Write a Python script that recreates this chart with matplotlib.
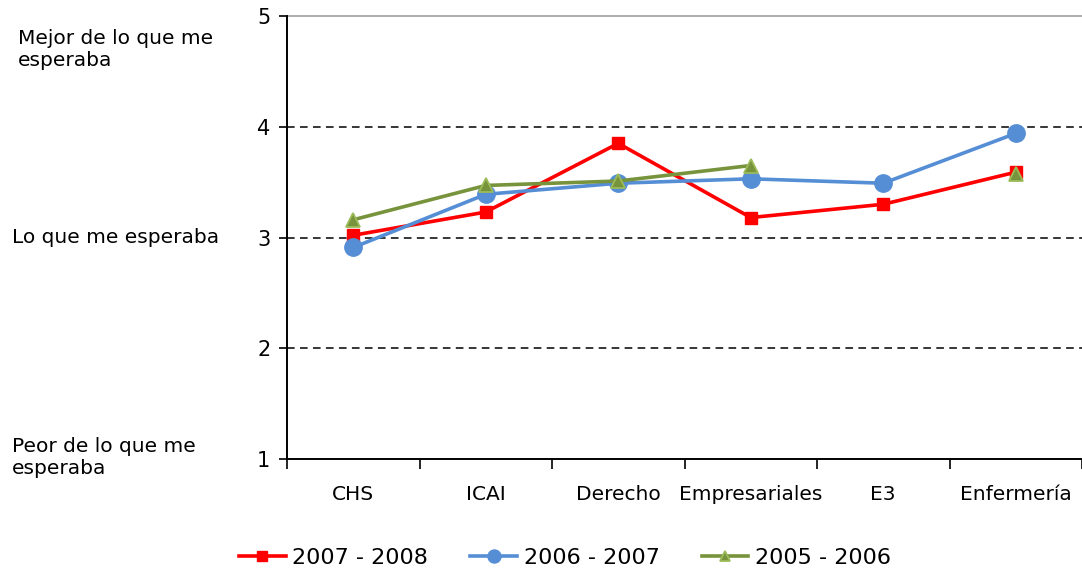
import numpy as np
import matplotlib
matplotlib.use('Agg')
import matplotlib.pyplot as plt
from matplotlib.ticker import FixedLocator

# Chart values
categories = ['CHS', 'ICAI', 'Derecho', 'Empresariales', 'E3', 'Enfermería']
y_2007_2008 = [3.02, 3.23, 3.85, 3.18, 3.30, 3.59]
y_2006_2007 = [2.91, 3.39, 3.49, 3.53, 3.49, 3.94]
y_2005_2006 = [3.16, 3.47, 3.51, 3.65, np.nan, 3.57]
series_labels = ['2007 - 2008', '2006 - 2007', '2005 - 2006']
y_ticks = [1, 2, 3, 4, 5]

plt.rcParams['font.family'] = ['DejaVu Sans']

fig = plt.figure(figsize=(10.82, 5.74), dpi=100)
ax = fig.add_axes([287 / 1082, 1 - 459 / 574, 795 / 1082, 443 / 574])

x = np.arange(len(categories))

ax.plot(x, y_2007_2008, color='#FF0000', linewidth=2.6, marker='s', markersize=9,
        markerfacecolor='#FF0000', markeredgecolor='#FF0000', label=series_labels[0], zorder=3)
ax.plot(x, y_2006_2007, color='#558ED5', linewidth=2.6, marker='o', markersize=12.5,
        markerfacecolor='#558ED5', markeredgecolor='#558ED5', label=series_labels[1], zorder=4)
ax.plot(x, y_2005_2006, color='#77933C', linewidth=2.6, marker='^', markersize=10,
        markerfacecolor='#77933C', markeredgecolor='#9BBB59', markeredgewidth=1.3,
        label=series_labels[2], zorder=5)

ax.set_xlim(-0.5, len(categories) - 0.5)
ax.set_ylim(1, 5)

# dashed gridlines, top line grey solid
for yv in y_ticks[1:-1]:
    ax.axhline(yv, color='black', linestyle=(0, (5, 3.5)), linewidth=1.1, zorder=1)
ax.axhline(5, color='#A0A0A0', linewidth=1.2, zorder=1, clip_on=False)

ax.spines['top'].set_visible(False)
ax.spines['right'].set_visible(False)
ax.spines['left'].set_linewidth(1.4)
ax.spines['bottom'].set_linewidth(1.4)

ax.set_yticks(y_ticks)
ax.set_yticklabels([str(v) for v in y_ticks], fontsize=15)
ax.tick_params(axis='y', length=6, width=1.2, pad=6)

ax.set_xticks(x)
ax.set_xticklabels(categories, fontsize=14.5)
ax.tick_params(axis='x', which='major', length=0, pad=19)
ax.xaxis.set_minor_locator(FixedLocator(np.arange(-0.5, len(categories), 1.0)))
ax.tick_params(axis='x', which='minor', length=7, width=1.2)

# descriptive labels on the left
fig.text(18 / 1082, 1 - 50 / 574, 'Mejor de lo que me\nesperaba', fontsize=14.5,
         ha='left', va='center', linespacing=1.2)
fig.text(12 / 1082, 1 - 238 / 574, 'Lo que me esperaba', fontsize=14.5,
         ha='left', va='center')
fig.text(12 / 1082, 1 - 457 / 574, 'Peor de lo que me\nesperaba', fontsize=14.5,
         ha='left', va='center', linespacing=1.2)

fig.legend(loc='center', bbox_to_anchor=(565 / 1082, 1 - 558 / 574), ncol=3,
           frameon=False, fontsize=16, handlelength=2.1, handletextpad=0.3,
           columnspacing=1.9, markerscale=0.75)

fig.savefig('out.png', dpi=100)
